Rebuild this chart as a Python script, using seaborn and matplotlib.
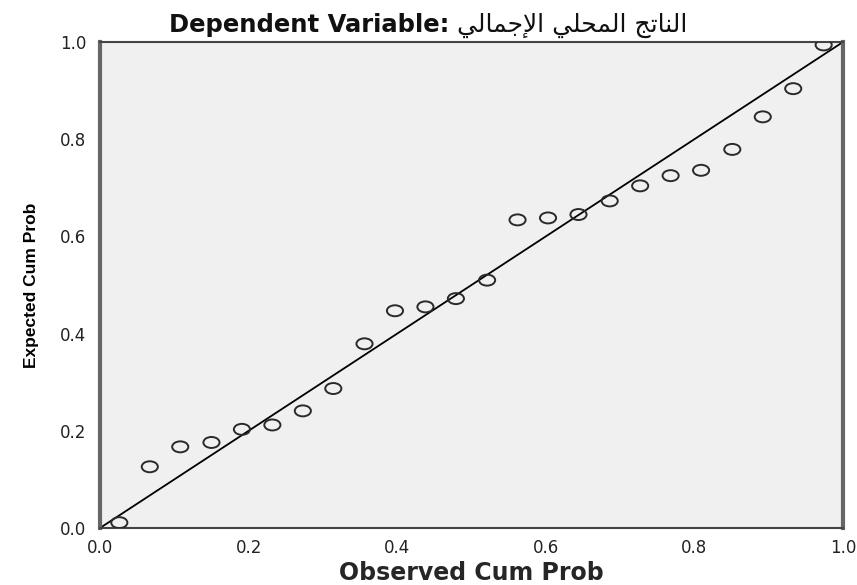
import numpy as np
import pandas as pd
import matplotlib
matplotlib.use("Agg")
import matplotlib.pyplot as plt
from matplotlib.path import Path
from matplotlib.transforms import Affine2D
import seaborn as sns

# P-P plot values (observed cumulative prob, expected cumulative prob)
observed = [0.026, 0.067, 0.108, 0.150, 0.191, 0.232, 0.273, 0.314,
            0.356, 0.397, 0.438, 0.479, 0.521, 0.562, 0.603, 0.644,
            0.686, 0.727, 0.768, 0.809, 0.851, 0.892, 0.933, 0.974]
expected = [0.011, 0.126, 0.167, 0.176, 0.203, 0.212, 0.241, 0.287,
            0.379, 0.447, 0.455, 0.472, 0.510, 0.634, 0.638, 0.645,
            0.673, 0.704, 0.725, 0.736, 0.779, 0.846, 0.904, 0.994]
ref_line = [0.0, 1.0]
ticks = [0.0, 0.2, 0.4, 0.6, 0.8, 1.0]
tick_labels = ["0.0", "0.2", "0.4", "0.6", "0.8", "1.0"]

df = pd.DataFrame({"Observed Cum Prob": observed, "Expected Cum Prob": expected})

# Arabic part of the title in visual order with presentation forms
# (matplotlib has no shaping engine)
w1 = "\uFE8D\uFEDF\uFEE8\uFE8E\uFE97\uFE9E"          # الناتج
w2 = "\uFE8D\uFEDF\uFEE4\uFEA4\uFEE0\uFEF2"          # المحلي
w3 = "\uFE8D\uFEF9\uFE9F\uFEE4\uFE8E\uFEDF\uFEF2"    # الإجمالي
TITLE_LATIN = "Dependent Variable:"
TITLE_ARABIC = w3[::-1] + " " + w2[::-1] + " " + w1[::-1]

sns.set_style("white", {"axes.facecolor": "#F0F0F0"})
plt.rcParams["font.family"] = ["DejaVu Sans"]

W, H = 857, 585
fig = plt.figure(figsize=(W / 100, H / 100), dpi=100)
ax = fig.add_axes([100 / W, 1 - 528 / H, 743 / W, 486 / H])

# slightly flattened open circles like the stretched SPSS output
ell = Path.unit_circle().transformed(Affine2D().scale(1.0, 0.68))

sns.lineplot(x=ref_line, y=ref_line, ax=ax, color="black", linewidth=1.3)
sns.scatterplot(data=df, x="Observed Cum Prob", y="Expected Cum Prob", ax=ax,
                marker=ell, s=135, facecolor="none", edgecolor="#2a2a2a",
                linewidth=1.4, zorder=3)

ax.set_xlim(0, 1)
ax.set_ylim(0, 1)
ax.set_xticks(ticks)
ax.set_xticklabels(tick_labels)
ax.set_yticks(ticks)
ax.set_yticklabels(tick_labels)
ax.tick_params(axis="x", direction="out", length=6, width=2, color="#444444",
               labelsize=12, pad=2, labelcolor="#222222")
ax.tick_params(axis="y", direction="out", length=9, width=1.2, color="#444444",
               labelsize=12, pad=1, labelcolor="#222222")

for side in ["left", "right"]:
    ax.spines[side].set_linewidth(3)
    ax.spines[side].set_color("#666666")
for side in ["top", "bottom"]:
    ax.spines[side].set_linewidth(1.5)
    ax.spines[side].set_color("#444444")

ax.set_xlabel("Observed Cum Prob", fontsize=17, fontweight="bold", labelpad=3)
ax.set_ylabel("Expected Cum Prob", fontsize=12.5, fontweight="bold", labelpad=15,
              color="#000000",
              family=["Liberation Sans Narrow", "Liberation Sans", "DejaVu Sans"],
              fontstretch="condensed")

# title: bold latin part left, regular arabic part right
fig.text(449 / W, 1 - 32 / H, TITLE_LATIN, ha="right", va="baseline",
         fontsize=17.5, fontweight="bold", color="#111111")
fig.text(457 / W, 1 - 32 / H, TITLE_ARABIC, ha="left", va="baseline",
         fontsize=18, color="#111111", family=["DejaVu Sans"])

fig.savefig("out.png", dpi=100)
